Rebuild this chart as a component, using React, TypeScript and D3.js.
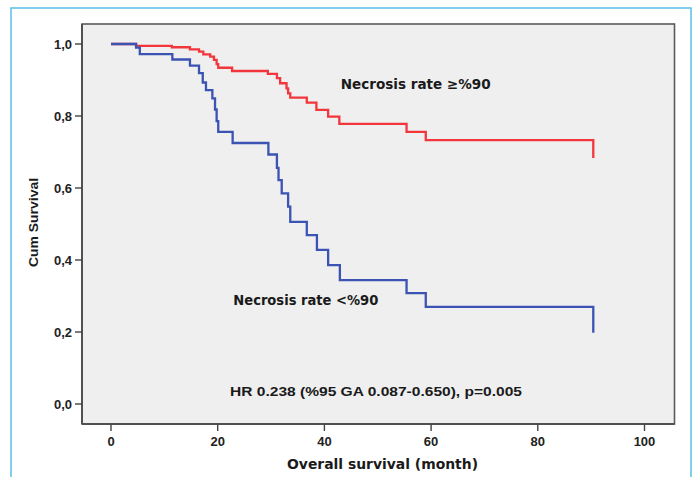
import React from "react";
import * as d3 from "d3";

// Kaplan–Meier step data (time in months, cumulative survival)
const redTimes = [0, 4.7, 11.4, 14.8, 16.5, 17.3, 18.6, 19.3, 19.8, 20.1, 22.7, 29.4, 31.1, 31.7, 32.9, 33.2, 33.6, 36.7, 38.5, 40.7, 42.8, 55.4, 59.0, 90.4];
const redSurv = [1.0, 0.995, 0.991, 0.985, 0.979, 0.971, 0.965, 0.956, 0.944, 0.934, 0.925, 0.917, 0.905, 0.891, 0.877, 0.863, 0.851, 0.837, 0.817, 0.798, 0.778, 0.756, 0.733, 0.683];

const blueTimes = [0, 4.7, 5.4, 11.5, 14.8, 16.5, 17.2, 17.8, 19.0, 19.5, 19.8, 20.1, 22.8, 29.5, 31.1, 31.4, 32.0, 33.2, 33.6, 36.7, 38.6, 40.7, 42.9, 55.4, 59.0, 90.4];
const blueSurv = [1.0, 0.99, 0.972, 0.957, 0.94, 0.919, 0.893, 0.872, 0.849, 0.818, 0.786, 0.756, 0.725, 0.693, 0.656, 0.622, 0.585, 0.548, 0.506, 0.469, 0.428, 0.386, 0.344, 0.308, 0.27, 0.198];

const xTicks = [0, 20, 40, 60, 80, 100];
const yTicks = [0, 0.2, 0.4, 0.6, 0.8, 1.0];

const labelHigh = "Necrosis rate ≥%90";
const labelLow = "Necrosis rate <%90";
const hrText = "HR 0.238 (%95 GA 0.087-0.650), p=0.005";
const xTitle = "Overall survival (month)";
const yTitle = "Cum Survival";

const W = 696;
const H = 477;

export default function App() {
  const x = d3.scaleLinear().domain([0, 100]).range([111, 644.5]);
  const y = d3.scaleLinear().domain([0, 1]).range([404, 44]);
  const plot = { left: 82, top: 24, right: 674.5, bottom: 424 };

  const locale = d3.formatLocale({ decimal: ",", thousands: ".", grouping: [3], currency: ["", ""] });
  const fmt = locale.format(".1f");

  const line = d3
    .line<[number, number]>()
    .x((d) => x(d[0]))
    .y((d) => y(d[1]))
    .curve(d3.curveStepAfter);

  const redPts: [number, number][] = redTimes.map((t, i) => [t, redSurv[i]]);
  const bluePts: [number, number][] = blueTimes.map((t, i) => [t, blueSurv[i]]);

  const tickFont = "'Liberation Sans', Arial, sans-serif";
  const wideFont = "'DejaVu Sans', Verdana, sans-serif";

  return (
    <svg
      width={W}
      height={H}
      style={{ position: "absolute", left: 0, top: 0, background: "#fff" }}
    >
      {/* outer frame */}
      <rect x={11} y={8} width={680} height={490} fill="#fff" stroke="#5bbfe3" strokeWidth={1.5} />

      {/* plot area */}
      <rect
        x={plot.left}
        y={plot.top}
        width={plot.right - plot.left}
        height={plot.bottom - plot.top}
        fill="#efefef"
        stroke="#5a5a5a"
        strokeWidth={1.6}
      />
      <line x1={plot.left} y1={plot.top} x2={plot.left} y2={plot.bottom} stroke="#505050" strokeWidth={2} />
      <line x1={plot.left} y1={plot.bottom} x2={plot.right} y2={plot.bottom} stroke="#505050" strokeWidth={2} />

      {/* y axis ticks */}
      {yTicks.map((v) => (
        <g key={"y" + v}>
          <line x1={plot.left - 7} x2={plot.left} y1={y(v)} y2={y(v)} stroke="#444" strokeWidth={1.4} />
          <text
            x={72}
            y={y(v) + 4.6}
            textAnchor="end"
            fontFamily={tickFont}
            fontWeight="bold"
            fontSize={13}
            fill="#222"
          >
            {fmt(v)}
          </text>
        </g>
      ))}

      {/* x axis ticks */}
      {xTicks.map((v) => (
        <g key={"x" + v}>
          <line x1={x(v)} x2={x(v)} y1={plot.bottom} y2={plot.bottom + 7} stroke="#444" strokeWidth={1.4} />
          <text
            x={x(v)}
            y={445.5}
            textAnchor="middle"
            fontFamily={tickFont}
            fontWeight="bold"
            fontSize={13}
            fill="#222"
          >
            {v}
          </text>
        </g>
      ))}

      {/* survival curves */}
      <path d={line(redPts) || ""} fill="none" stroke="#f2363c" strokeWidth={2.3} />
      <path d={line(bluePts) || ""} fill="none" stroke="#3b53b3" strokeWidth={2.3} />

      {/* labels */}
      <text
        x={340.7}
        y={89}
        fontFamily={wideFont}
        fontWeight="bold"
        fontSize={14}
        textLength={150}
        lengthAdjust="spacingAndGlyphs"
        fill="#1a1a1a"
      >
        {labelHigh}
      </text>
      <text
        x={233.3}
        y={304.5}
        fontFamily={wideFont}
        fontWeight="bold"
        fontSize={14}
        textLength={145}
        lengthAdjust="spacingAndGlyphs"
        fill="#1a1a1a"
      >
        {labelLow}
      </text>
      <text
        x={230}
        y={396}
        fontFamily={tickFont}
        fontWeight="bold"
        fontSize={13.5}
        textLength={292}
        lengthAdjust="spacingAndGlyphs"
        fill="#1a1a1a"
      >
        {hrText}
      </text>

      {/* axis titles */}
      <text
        x={287}
        y={468.5}
        fontFamily={wideFont}
        fontWeight="bold"
        fontSize={14.5}
        textLength={191}
        lengthAdjust="spacingAndGlyphs"
        fill="#1a1a1a"
      >
        {xTitle}
      </text>
      <text
        transform={`translate(38.3, 222.5) rotate(-90)`}
        textAnchor="middle"
        fontFamily={tickFont}
        fontWeight="bold"
        fontSize={13.5}
        textLength={89}
        lengthAdjust="spacingAndGlyphs"
        fill="#1a1a1a"
      >
        {yTitle}
      </text>
    </svg>
  );
}
